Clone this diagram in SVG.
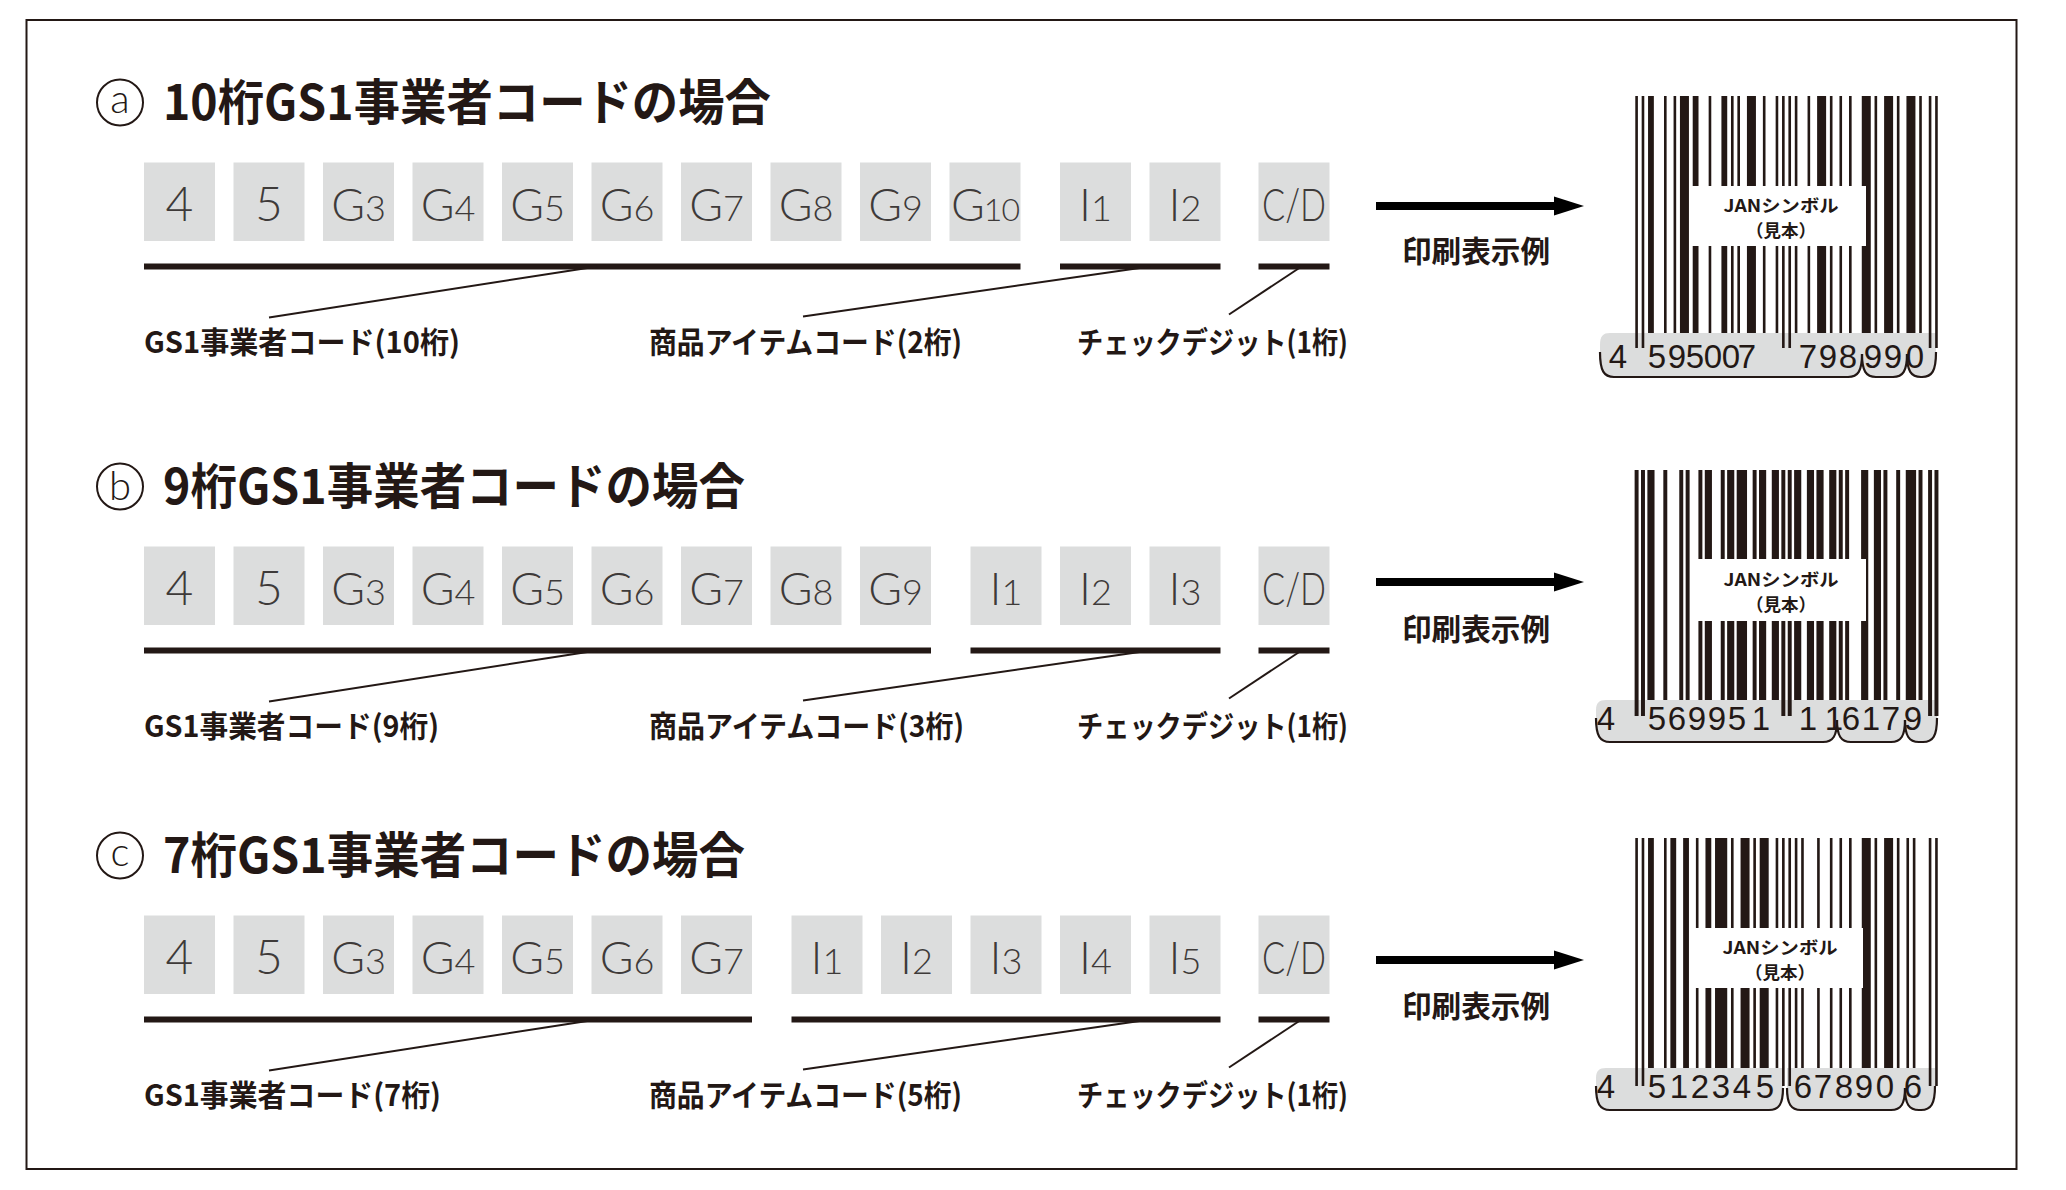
<svg xmlns="http://www.w3.org/2000/svg" width="2066" height="1190" viewBox="0 0 2066 1190">
<style>
.bg{fill:#ffffff}
.frame{fill:none;stroke:#231815;stroke-width:2}
.box{fill:#dcdddd}
.bt{font-family:Lato,'Open Sans','DejaVu Sans',sans-serif;font-weight:300;fill:#3e3a39;font-size:46px;text-anchor:middle}
.big{font-size:48px}
.sub{font-size:36px}
.sub2{font-size:32px}
.ttl{font-family:'Noto Sans CJK JP','Noto Sans CJK SC',sans-serif;font-weight:700;font-size:49px;fill:#231815}
.lbl{font-family:'Noto Sans CJK JP','Noto Sans CJK SC',sans-serif;font-weight:700;font-size:30px;fill:#231815}
.ul{fill:#231815}
.ld{stroke:#231815;stroke-width:2;fill:none}
.arr{stroke:#000;stroke-width:8;fill:none}
.ah{fill:#000}
.circ{fill:none;stroke:#231815;stroke-width:2}
.cl{font-family:Lato,'Open Sans',sans-serif;font-weight:300;font-size:40px;fill:#231815;text-anchor:middle}
.bar{fill:#231815}
.win{fill:#ffffff}
.jan{font-family:'Noto Sans CJK JP','Noto Sans CJK SC',sans-serif;font-weight:700;font-size:17.5px;fill:#231815;text-anchor:middle}
.dg{font-family:'Liberation Sans',Arial,sans-serif;font-size:33px;fill:#231815;text-anchor:middle}
.gray{fill:#dcdddd}
.brace{fill:none;stroke:#231815;stroke-width:2.2}
</style>
<rect class="bg" x="0" y="0" width="2066" height="1190"/>
<rect class="frame" x="26.5" y="20" width="1990" height="1149"/>

<!-- ===== Row a ===== -->
<g id="title-a">
  <circle class="circ" cx="120" cy="102.5" r="23"/>
  <text class="cl" x="120" y="113">a</text>
  <text class="ttl" x="163" y="120" textLength="608" lengthAdjust="spacingAndGlyphs">10桁GS1事業者コードの場合</text>
</g>
<g id="row-a-boxes">
  <g id="a-4"><rect class="box" x="144" y="162.5" width="71" height="78.5"/><text class="bt big" x="179.5" y="221">4</text></g>
  <g id="a-5"><rect class="box" x="233.5" y="162.5" width="71" height="78.5"/><text class="bt big" x="269" y="221">5</text></g>
  <g id="a-g3"><rect class="box" x="323" y="162.5" width="71" height="78.5"/><text class="bt" x="358.5" y="221">G<tspan class="sub">3</tspan></text></g>
  <g id="a-g4"><rect class="box" x="412.5" y="162.5" width="71" height="78.5"/><text class="bt" x="448" y="221">G<tspan class="sub">4</tspan></text></g>
  <g id="a-g5"><rect class="box" x="502" y="162.5" width="71" height="78.5"/><text class="bt" x="537.5" y="221">G<tspan class="sub">5</tspan></text></g>
  <g id="a-g6"><rect class="box" x="591.5" y="162.5" width="71" height="78.5"/><text class="bt" x="627" y="221">G<tspan class="sub">6</tspan></text></g>
  <g id="a-g7"><rect class="box" x="681" y="162.5" width="71" height="78.5"/><text class="bt" x="716.5" y="221">G<tspan class="sub">7</tspan></text></g>
  <g id="a-g8"><rect class="box" x="770.5" y="162.5" width="71" height="78.5"/><text class="bt" x="806" y="221">G<tspan class="sub">8</tspan></text></g>
  <g id="a-g9"><rect class="box" x="860" y="162.5" width="71" height="78.5"/><text class="bt" x="895.5" y="221">G<tspan class="sub">9</tspan></text></g>
  <g id="a-g10"><rect class="box" x="949.5" y="162.5" width="71" height="78.5"/><text class="bt" x="985" y="221" letter-spacing="-1">G<tspan class="sub2">10</tspan></text></g>
  <g id="a-i1"><rect class="box" x="1060" y="162.5" width="71" height="78.5"/><text class="bt" x="1095.5" y="221">I<tspan class="sub">1</tspan></text></g>
  <g id="a-i2"><rect class="box" x="1149.5" y="162.5" width="71" height="78.5"/><text class="bt" x="1185" y="221">I<tspan class="sub">2</tspan></text></g>
  <g id="a-cd"><rect class="box" x="1258.5" y="162.5" width="71" height="78.5"/><text class="bt" x="1294" y="221" textLength="64" lengthAdjust="spacingAndGlyphs">C/D</text></g>
</g>
<g id="row-a-underlines">
  <rect class="ul" x="144" y="263.5" width="876.5" height="6"/>
  <rect class="ul" x="1060" y="263.5" width="160.5" height="6"/>
  <rect class="ul" x="1258.5" y="263.5" width="71" height="6"/>
</g>
<g id="a-labels">
  <text id="a-lbl-gs1" class="lbl" x="144" y="352.5" textLength="316" lengthAdjust="spacingAndGlyphs">GS1事業者コード(10桁)</text>
  <text id="a-lbl-item" class="lbl" x="649" y="352.5" textLength="313" lengthAdjust="spacingAndGlyphs">商品アイテムコード(2桁)</text>
  <text id="a-lbl-cd" class="lbl" x="1077" y="352.5" textLength="271" lengthAdjust="spacingAndGlyphs">チェックデジット(1桁)</text>
  <text id="a-print" class="lbl" x="1402" y="262" textLength="148" lengthAdjust="spacingAndGlyphs">印刷表示例</text>
</g>
<g id="barcode-a">
  <path class="gray" d="M1600,345 C1600,336 1603,333 1610,333 H1862 V355 C1862,371 1858,377 1848,377 H1614 C1604,377 1600,371 1600,355 Z"/>
  <path class="gray" d="M1862,333 H1907 V355 C1907,371 1903,377 1893,377 H1876 C1866,377 1862,371 1862,355 Z"/>
  <path class="gray" d="M1907,333 H1936 V355 C1936,371 1932,377 1922,377 H1921 C1911,377 1907,371 1907,355 Z"/>
  <g transform="translate(1635 96) scale(3.19 1)">
    <g class="bar">
      <rect x="0.09" width="0.82" height="252"/><rect x="2.09" width="0.82" height="252"/>
      <rect x="46.09" width="0.82" height="252"/><rect x="48.09" width="0.82" height="252"/>
      <rect x="92.09" width="0.82" height="252"/><rect x="94.09" width="0.82" height="252"/>
      <rect x="4.09" width="1.82" height="237"/><rect x="9.09" width="0.82" height="237"/>
      <rect x="12.09" width="0.82" height="237"/><rect x="14.09" width="2.82" height="237"/>
      <rect x="18.09" width="1.82" height="237"/><rect x="23.09" width="0.82" height="237"/>
      <rect x="27.09" width="1.82" height="237"/><rect x="30.09" width="0.82" height="237"/>
      <rect x="32.09" width="0.82" height="237"/><rect x="35.09" width="2.82" height="237"/>
      <rect x="40.09" width="0.82" height="237"/><rect x="44.09" width="0.82" height="237"/>
      <rect x="50.09" width="0.82" height="237"/><rect x="54.09" width="0.82" height="237"/>
      <rect x="57.09" width="2.82" height="237"/><rect x="61.09" width="0.82" height="237"/>
      <rect x="64.09" width="0.82" height="237"/><rect x="67.09" width="0.82" height="237"/>
      <rect x="71.09" width="2.82" height="237"/><rect x="75.09" width="0.82" height="237"/>
      <rect x="78.09" width="2.82" height="237"/><rect x="82.09" width="0.82" height="237"/>
      <rect x="85.09" width="2.82" height="237"/><rect x="89.09" width="0.82" height="237"/>
    </g>
  </g>
  <rect class="win" x="1691" y="186" width="175" height="60"/>
  <text class="jan" x="1781" y="212" textLength="115" lengthAdjust="spacingAndGlyphs">JANシンボル</text>
  <text class="jan" x="1781" y="237">（見本）</text>
  <text class="dg" x="1618 1657 1677 1695 1713 1731 1747 1808 1828 1848 1873 1893 1915" y="368">4595007798990</text>
  <path class="brace" d="M1600,352 C1600,371 1604,377 1614,377 H1848 C1858,377 1862,371 1862,354"/>
  <path class="brace" d="M1862,354 C1862,371 1866,377 1876,377 H1893 C1903,377 1907,371 1907,354"/>
  <path class="brace" d="M1907,354 C1907,371 1911,377 1921,377 H1922 C1932,377 1936,371 1936,352"/>
</g>

<!-- ===== Row b ===== -->
<g id="title-b">
  <circle class="circ" cx="120" cy="486.5" r="23"/>
  <text class="cl" x="120" y="500">b</text>
  <text class="ttl" x="163" y="504" textLength="582" lengthAdjust="spacingAndGlyphs">9桁GS1事業者コードの場合</text>
</g>
<g id="row-b-boxes">
  <g id="b-4"><rect class="box" x="144" y="546.5" width="71" height="78.5"/><text class="bt big" x="179.5" y="605">4</text></g>
  <g id="b-5"><rect class="box" x="233.5" y="546.5" width="71" height="78.5"/><text class="bt big" x="269" y="605">5</text></g>
  <g id="b-g3"><rect class="box" x="323" y="546.5" width="71" height="78.5"/><text class="bt" x="358.5" y="605">G<tspan class="sub">3</tspan></text></g>
  <g id="b-g4"><rect class="box" x="412.5" y="546.5" width="71" height="78.5"/><text class="bt" x="448" y="605">G<tspan class="sub">4</tspan></text></g>
  <g id="b-g5"><rect class="box" x="502" y="546.5" width="71" height="78.5"/><text class="bt" x="537.5" y="605">G<tspan class="sub">5</tspan></text></g>
  <g id="b-g6"><rect class="box" x="591.5" y="546.5" width="71" height="78.5"/><text class="bt" x="627" y="605">G<tspan class="sub">6</tspan></text></g>
  <g id="b-g7"><rect class="box" x="681" y="546.5" width="71" height="78.5"/><text class="bt" x="716.5" y="605">G<tspan class="sub">7</tspan></text></g>
  <g id="b-g8"><rect class="box" x="770.5" y="546.5" width="71" height="78.5"/><text class="bt" x="806" y="605">G<tspan class="sub">8</tspan></text></g>
  <g id="b-g9"><rect class="box" x="860" y="546.5" width="71" height="78.5"/><text class="bt" x="895.5" y="605">G<tspan class="sub">9</tspan></text></g>
  <g id="b-i1"><rect class="box" x="970.5" y="546.5" width="71" height="78.5"/><text class="bt" x="1006" y="605">I<tspan class="sub">1</tspan></text></g>
  <g id="b-i2"><rect class="box" x="1060" y="546.5" width="71" height="78.5"/><text class="bt" x="1095.5" y="605">I<tspan class="sub">2</tspan></text></g>
  <g id="b-i3"><rect class="box" x="1149.5" y="546.5" width="71" height="78.5"/><text class="bt" x="1185" y="605">I<tspan class="sub">3</tspan></text></g>
  <g id="b-cd"><rect class="box" x="1258.5" y="546.5" width="71" height="78.5"/><text class="bt" x="1294" y="605" textLength="64" lengthAdjust="spacingAndGlyphs">C/D</text></g>
</g>
<g id="row-b-underlines">
  <rect class="ul" x="144" y="647.5" width="787" height="6"/>
  <rect class="ul" x="970.5" y="647.5" width="250" height="6"/>
  <rect class="ul" x="1258.5" y="647.5" width="71" height="6"/>
</g>
<g id="b-labels">
  <text id="b-lbl-gs1" class="lbl" x="144" y="736.5" textLength="295" lengthAdjust="spacingAndGlyphs">GS1事業者コード(9桁)</text>
  <text id="b-lbl-item" class="lbl" x="649" y="736.5" textLength="315" lengthAdjust="spacingAndGlyphs">商品アイテムコード(3桁)</text>
  <text id="b-lbl-cd" class="lbl" x="1077" y="736.5" textLength="271" lengthAdjust="spacingAndGlyphs">チェックデジット(1桁)</text>
  <text id="b-print" class="lbl" x="1402" y="640" textLength="148" lengthAdjust="spacingAndGlyphs">印刷表示例</text>
</g>
<g id="barcode-b">
  <path class="gray" d="M1596,710 C1596,703 1599,700 1606,700 H1837 V720 C1837,736 1833,742 1823,742 H1610 C1600,742 1596,736 1596,720 Z"/>
  <path class="gray" d="M1837,700 H1905 V720 C1905,736 1901,742 1891,742 H1851 C1841,742 1837,736 1837,720 Z"/>
  <path class="gray" d="M1905,700 H1937 V720 C1937,736 1933,742 1923,742 H1919 C1909,742 1905,736 1905,720 Z"/>
  <g transform="translate(1635 470) scale(3.19 1)">
    <g class="bar">
      <rect x="-0.12" width="1.24" height="246"/><rect x="1.88" width="1.24" height="246"/>
      <rect x="45.88" width="1.24" height="246"/><rect x="47.88" width="1.24" height="246"/>
      <rect x="91.88" width="1.24" height="246"/><rect x="93.88" width="1.24" height="246"/>
      <rect x="3.88" width="2.24" height="230"/><rect x="8.88" width="1.24" height="230"/>
      <rect x="13.88" width="1.24" height="230"/><rect x="15.88" width="1.24" height="230"/>
      <rect x="19.88" width="1.24" height="230"/><rect x="21.88" width="2.24" height="230"/>
      <rect x="26.88" width="1.24" height="230"/><rect x="28.88" width="2.24" height="230"/>
      <rect x="31.88" width="3.24" height="230"/><rect x="36.88" width="1.24" height="230"/>
      <rect x="38.88" width="2.24" height="230"/><rect x="42.88" width="2.24" height="230"/>
      <rect x="49.88" width="2.24" height="230"/><rect x="53.88" width="2.24" height="230"/>
      <rect x="56.88" width="2.24" height="230"/><rect x="60.88" width="2.24" height="230"/>
      <rect x="63.88" width="1.24" height="230"/><rect x="65.88" width="1.24" height="230"/>
      <rect x="70.88" width="2.24" height="230"/><rect x="74.88" width="2.24" height="230"/>
      <rect x="77.88" width="1.24" height="230"/><rect x="81.88" width="1.24" height="230"/>
      <rect x="84.88" width="3.24" height="230"/><rect x="88.88" width="1.24" height="230"/>
    </g>
  </g>
  <rect class="win" x="1691" y="559" width="175" height="62"/>
  <text class="jan" x="1781" y="586" textLength="115" lengthAdjust="spacingAndGlyphs">JANシンボル</text>
  <text class="jan" x="1781" y="611">（見本）</text>
  <text class="dg" x="1606 1657 1677 1697 1717 1737 1761 1808 1834 1851 1871 1891 1913" y="730">4569951116179</text>
  <path class="brace" d="M1596,718 C1596,736 1600,742 1610,742 H1823 C1833,742 1837,736 1837,720"/>
  <path class="brace" d="M1837,720 C1837,736 1841,742 1851,742 H1891 C1901,742 1905,736 1905,720"/>
  <path class="brace" d="M1905,720 C1905,736 1909,742 1919,742 H1923 C1933,742 1937,736 1937,718"/>
</g>

<!-- ===== Row c ===== -->
<g id="title-c">
  <circle class="circ" cx="120" cy="855.5" r="23"/>
  <text class="cl" x="120" y="866">c</text>
  <text class="ttl" x="163" y="873" textLength="582" lengthAdjust="spacingAndGlyphs">7桁GS1事業者コードの場合</text>
</g>
<g id="row-c-boxes">
  <g id="c-4"><rect class="box" x="144" y="915.5" width="71" height="78.5"/><text class="bt big" x="179.5" y="974">4</text></g>
  <g id="c-5"><rect class="box" x="233.5" y="915.5" width="71" height="78.5"/><text class="bt big" x="269" y="974">5</text></g>
  <g id="c-g3"><rect class="box" x="323" y="915.5" width="71" height="78.5"/><text class="bt" x="358.5" y="974">G<tspan class="sub">3</tspan></text></g>
  <g id="c-g4"><rect class="box" x="412.5" y="915.5" width="71" height="78.5"/><text class="bt" x="448" y="974">G<tspan class="sub">4</tspan></text></g>
  <g id="c-g5"><rect class="box" x="502" y="915.5" width="71" height="78.5"/><text class="bt" x="537.5" y="974">G<tspan class="sub">5</tspan></text></g>
  <g id="c-g6"><rect class="box" x="591.5" y="915.5" width="71" height="78.5"/><text class="bt" x="627" y="974">G<tspan class="sub">6</tspan></text></g>
  <g id="c-g7"><rect class="box" x="681" y="915.5" width="71" height="78.5"/><text class="bt" x="716.5" y="974">G<tspan class="sub">7</tspan></text></g>
  <g id="c-i1"><rect class="box" x="791.5" y="915.5" width="71" height="78.5"/><text class="bt" x="827" y="974">I<tspan class="sub">1</tspan></text></g>
  <g id="c-i2"><rect class="box" x="881" y="915.5" width="71" height="78.5"/><text class="bt" x="916.5" y="974">I<tspan class="sub">2</tspan></text></g>
  <g id="c-i3"><rect class="box" x="970.5" y="915.5" width="71" height="78.5"/><text class="bt" x="1006" y="974">I<tspan class="sub">3</tspan></text></g>
  <g id="c-i4"><rect class="box" x="1060" y="915.5" width="71" height="78.5"/><text class="bt" x="1095.5" y="974">I<tspan class="sub">4</tspan></text></g>
  <g id="c-i5"><rect class="box" x="1149.5" y="915.5" width="71" height="78.5"/><text class="bt" x="1185" y="974">I<tspan class="sub">5</tspan></text></g>
  <g id="c-cd"><rect class="box" x="1258.5" y="915.5" width="71" height="78.5"/><text class="bt" x="1294" y="974" textLength="64" lengthAdjust="spacingAndGlyphs">C/D</text></g>
</g>
<g id="row-c-underlines">
  <rect class="ul" x="144" y="1016.5" width="608" height="6"/>
  <rect class="ul" x="791.5" y="1016.5" width="429" height="6"/>
  <rect class="ul" x="1258.5" y="1016.5" width="71" height="6"/>
</g>
<g id="c-labels">
  <text id="c-lbl-gs1" class="lbl" x="144" y="1105.5" textLength="297" lengthAdjust="spacingAndGlyphs">GS1事業者コード(7桁)</text>
  <text id="c-lbl-item" class="lbl" x="649" y="1105.5" textLength="313" lengthAdjust="spacingAndGlyphs">商品アイテムコード(5桁)</text>
  <text id="c-lbl-cd" class="lbl" x="1077" y="1105.5" textLength="271" lengthAdjust="spacingAndGlyphs">チェックデジット(1桁)</text>
  <text id="c-print" class="lbl" x="1402" y="1017" textLength="148" lengthAdjust="spacingAndGlyphs">印刷表示例</text>
</g>
<g id="barcode-c">
  <path class="gray" d="M1596,1078 C1596,1071 1599,1068 1606,1068 H1783 V1088 C1783,1104 1779,1110 1769,1110 H1610 C1600,1110 1596,1104 1596,1088 Z"/>
  <path class="gray" d="M1787,1068 H1905 V1088 C1905,1104 1901,1110 1891,1110 H1801 C1791,1110 1787,1104 1787,1088 Z"/>
  <path class="gray" d="M1905,1068 H1935 V1088 C1935,1104 1931,1110 1921,1110 H1919 C1909,1110 1905,1104 1905,1088 Z"/>
  <g transform="translate(1635 838) scale(3.19 1)">
    <g class="bar">
      <rect x="0.09" width="0.82" height="248"/><rect x="2.09" width="0.82" height="248"/>
      <rect x="46.09" width="0.82" height="248"/><rect x="48.09" width="0.82" height="248"/>
      <rect x="92.09" width="0.82" height="248"/><rect x="94.09" width="0.82" height="248"/>
      <rect x="4.09" width="1.82" height="230"/><rect x="9.09" width="0.82" height="230"/>
      <rect x="11.09" width="1.82" height="230"/><rect x="15.09" width="1.82" height="230"/>
      <rect x="19.09" width="0.82" height="230"/><rect x="22.09" width="1.82" height="230"/>
      <rect x="25.09" width="3.82" height="230"/><rect x="30.09" width="0.82" height="230"/>
      <rect x="33.09" width="2.82" height="230"/><rect x="37.09" width="0.82" height="230"/>
      <rect x="39.09" width="2.82" height="230"/><rect x="44.09" width="0.82" height="230"/>
      <rect x="50.09" width="0.82" height="230"/><rect x="52.09" width="0.82" height="230"/>
      <rect x="57.09" width="0.82" height="230"/><rect x="61.09" width="0.82" height="230"/>
      <rect x="64.09" width="0.82" height="230"/><rect x="67.09" width="0.82" height="230"/>
      <rect x="71.09" width="2.82" height="230"/><rect x="75.09" width="0.82" height="230"/>
      <rect x="78.09" width="2.82" height="230"/><rect x="82.09" width="0.82" height="230"/>
      <rect x="85.09" width="0.82" height="230"/><rect x="87.09" width="0.82" height="230"/>
    </g>
  </g>
  <rect class="win" x="1693" y="928" width="170" height="60"/>
  <text class="jan" x="1780" y="954" textLength="115" lengthAdjust="spacingAndGlyphs">JANシンボル</text>
  <text class="jan" x="1780" y="979">（見本）</text>
  <text class="dg" x="1606 1657 1679 1700 1721 1742 1765 1803 1823 1844 1864 1885 1913" y="1098">4512345678906</text>
  <path class="brace" d="M1596,1086 C1596,1104 1600,1110 1610,1110 H1769 C1779,1110 1783,1104 1783,1088"/>
  <path class="brace" d="M1787,1088 C1787,1104 1791,1110 1801,1110 H1891 C1901,1110 1905,1104 1905,1088"/>
  <path class="brace" d="M1905,1088 C1905,1104 1909,1110 1919,1110 H1921 C1931,1110 1935,1104 1935,1086"/>
</g>

<!-- ===== Connectors ===== -->
<g id="connectors">
  <line class="ld" x1="269" y1="317.5" x2="597" y2="266.5"/>
  <line class="ld" x1="803" y1="316.5" x2="1150" y2="266.5"/>
  <line class="ld" x1="1229" y1="314.5" x2="1300" y2="267.5"/>
  <line class="ld" x1="269" y1="701.5" x2="597" y2="650.5"/>
  <line class="ld" x1="803" y1="700.5" x2="1150" y2="650.5"/>
  <line class="ld" x1="1229" y1="698.5" x2="1300" y2="651.5"/>
  <line class="ld" x1="269" y1="1070.5" x2="597" y2="1019.5"/>
  <line class="ld" x1="803" y1="1069.5" x2="1150" y2="1019.5"/>
  <line class="ld" x1="1229" y1="1067.5" x2="1300" y2="1020.5"/>
  <line class="arr" x1="1376" y1="206" x2="1556" y2="206"/>
  <polygon class="ah" points="1554,196.5 1584,206 1554,215.5"/>
  <line class="arr" x1="1376" y1="582" x2="1556" y2="582"/>
  <polygon class="ah" points="1554,572.5 1584,582 1554,591.5"/>
  <line class="arr" x1="1376" y1="960" x2="1556" y2="960"/>
  <polygon class="ah" points="1554,950.5 1584,960 1554,969.5"/>
</g>
</svg>
